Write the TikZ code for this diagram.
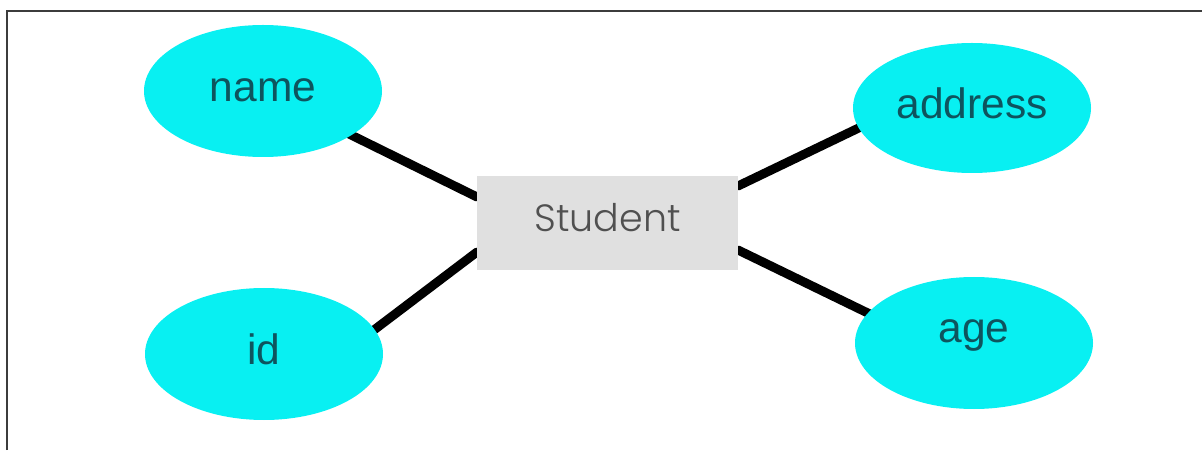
\documentclass[tikz,border=0pt]{standalone}
\usepackage{fontspec}
\setmainfont{Liberation Sans}
\newfontfamily\stfont{Poppins}[UprightFont=* Light]
\usetikzlibrary{shapes.geometric,backgrounds}
\definecolor{attrfill}{RGB}{8,240,242}
\definecolor{attrtext}{RGB}{14,84,94}
\definecolor{entfill}{RGB}{224,224,224}
\definecolor{enttext}{RGB}{80,80,80}
\definecolor{framecol}{RGB}{60,60,60}
\tikzset{
  attr/.style={ellipse, fill=attrfill, inner sep=0pt, minimum width=238pt, minimum height=132pt,
    text=attrtext, font=\fontsize{42.5}{42.5}\selectfont, text height=21pt, text depth=0pt},
  ent/.style={rectangle, fill=entfill, inner sep=0pt, minimum width=261pt, minimum height=94pt,
    text=enttext, font=\stfont\fontsize{38}{38}\selectfont, text height=27pt, text depth=10pt},
  conn/.style={line width=9pt, black, line cap=round},
  frameline/.style={line width=1.5pt, framecol}
}
\begin{document}
\begin{tikzpicture}[x=1pt,y=1pt]
\useasboundingbox (0,0) rectangle (1202,450);
\node[ent] (st) at (607.5,227) {Student};
\node[attr] (name) at (263,359) {name};
\node[attr] (id) at (264,96) {id};
\node[attr, minimum height=130pt] (addr) at (972,342) {address};
\node[attr, text depth=21pt] (age) at (974,107) {age};
\coordinate (n1) at (477,253);
\coordinate (n2) at (343,319);
\coordinate (i1) at (477,198);
\coordinate (i2) at (370,117);
\coordinate (a1) at (738,264);
\coordinate (a2) at (867,326);
\coordinate (g1) at (738,200);
\coordinate (g2) at (876,133);
\coordinate (fa) at (7,0);
\coordinate (fb) at (7,439);
\coordinate (fc) at (1202,439);
\begin{scope}[on background layer]
  \draw[frameline] (fa) -- (fb) -- (fc);
  \draw[conn] (n1) -- (n2);
  \draw[conn] (i1) -- (i2);
  \draw[conn] (a1) -- (a2);
  \draw[conn] (g1) -- (g2);
\end{scope}
\end{tikzpicture}
\end{document}
